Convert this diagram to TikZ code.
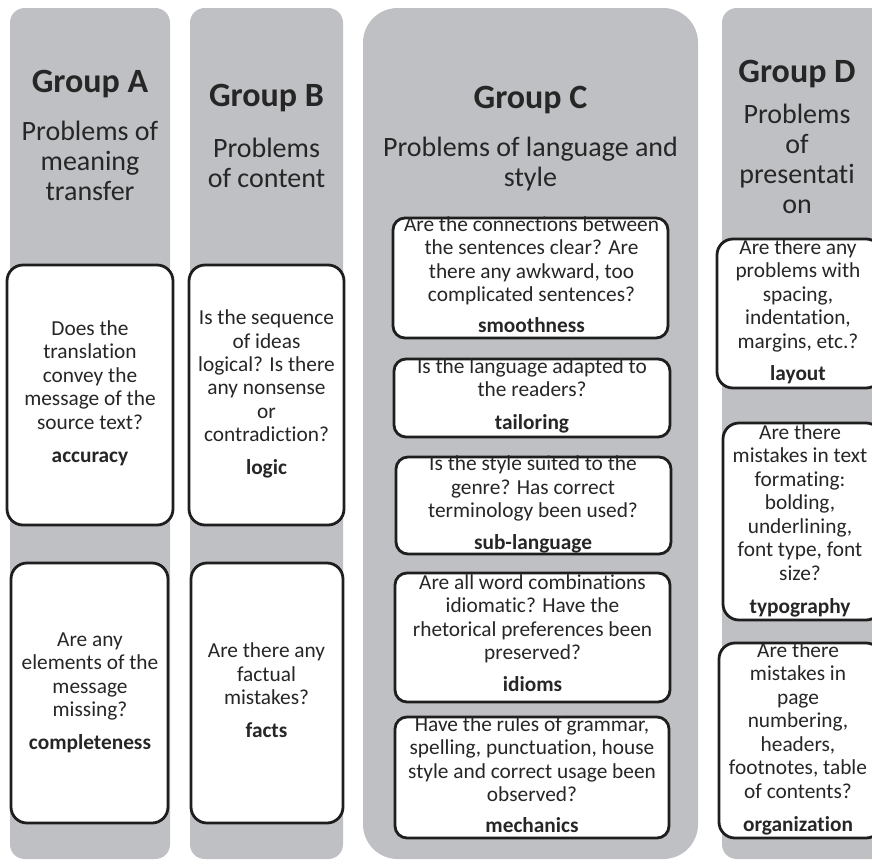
\documentclass[tikz,border=0pt]{standalone}
\usepackage{fontspec}
\setmainfont{Carlito}[Ligatures={NoCommon}]
\definecolor{colgray}{HTML}{BFC0C4}
\definecolor{boxline}{HTML}{1E1E1E}
\definecolor{txt}{HTML}{262626}
\tikzset{
  col/.style={fill=colgray, draw=none, rounded corners=11pt},
  qbox/.style={draw=boxline, fill=white, line width=2.1pt, rounded corners=12pt},
  cbox/.style={qbox, rounded corners=9pt},
  qtext/.style={align=center, inner sep=0pt, text=txt, font=\fontsize{16}{17.6}\selectfont},
  qlabel/.style={qtext, font=\bfseries\fontsize{16}{17.6}\selectfont},
  gtitle/.style={align=center, inner sep=0pt, text=txt, font=\bfseries\fontsize{25.5}{28.8}\selectfont},
  gsub/.style={align=center, inner sep=0pt, text=txt, font=\fontsize{21}{22.5}\selectfont}
}
\begin{document}
\begin{tikzpicture}[x=0.75pt,y=-0.75pt]
\useasboundingbox (0,0) rectangle (872,861);
\clip (0,0) rectangle (872,861);
% columns
\fill[col] (10,8) rectangle (170,859);
\fill[col] (190,8) rectangle (343,859);
\fill[col, rounded corners=26pt] (363,8) rectangle (698,859);
\fill[col] (722,8) rectangle (890,859);
% headers
\node[gtitle] (ga) at (90,84) {Group A};
\node[gsub] (gas) at (90,164.5) {\strut Problems of\\meaning\\transfer\strut};
\node[gtitle] (gb) at (266.5,98) {Group B};
\node[gsub] (gbs) at (266.5,166) {\strut Problems\\of content\strut};
\node[gtitle] (gc) at (530.5,100) {Group C};
\node[gsub] (gcs) at (530.5,165.5) {\strut Problems of language and\\style\strut};
\node[gtitle] (gd) at (797,74) {Group D};
\node[gsub] (gds) at (797,162) {\strut Problems\\of\\presentati\\on\strut};
% Group A boxes
\draw[qbox] (7,265) rectangle (173,525);
\node[qtext] (a1q) at (90,377.5) {\strut Does the\\translation\\convey the\\message of the\\source text?\strut};
\node[qlabel] (a1l) at (90,458) {\strut accuracy};
\draw[qbox] (11,563) rectangle (168,823);
\node[qtext] (a2q) at (90,677) {\strut Are any\\elements of the\\message\\missing?\strut};
\node[qlabel] (a2l) at (90,745) {\strut completeness};
% Group B boxes
\draw[qbox] (189,265) rectangle (344,525);
\node[qtext] (b1q) at (266.5,378.5) {\strut Is the sequence\\of ideas\\logical? Is there\\any nonsense\\or\\contradiction?\strut};
\node[qlabel] (b1l) at (266.5,470) {\strut logic};
\draw[qbox] (191,563) rectangle (343,823);
\node[qtext] (b2q) at (266.5,676.5) {\strut Are there any\\factual\\mistakes?\strut};
\node[qlabel] (b2l) at (266.5,733) {\strut facts};
% Group C boxes
\draw[cbox] (393,218) rectangle (668,338);
\node[qtext] (c1q) at (531.5,262) {\strut Are the connections between\\the sentences clear? Are\\there any awkward, too\\complicated sentences?\strut};
\node[qlabel] (c1l) at (531.5,328) {\strut smoothness};
\draw[cbox] (394,359) rectangle (670,437);
\node[qtext] (c2q) at (532,380.5) {\strut Is the language adapted to\\the readers?\strut};
\node[qlabel] (c2l) at (532,425) {\strut tailoring};
\draw[cbox] (396,457) rectangle (671,554);
\node[qtext] (c3q) at (533,489.5) {\strut Is the style suited to the\\genre? Has correct\\terminology been used?\strut};
\node[qlabel] (c3l) at (533,545) {\strut sub-language};
\draw[cbox] (395,573) rectangle (670,702);
\node[qtext] (c4q) at (532.5,620) {\strut Are all word combinations\\idiomatic? Have the\\rhetorical preferences been\\preserved?\strut};
\node[qlabel] (c4l) at (532.5,687) {\strut idioms};
\draw[cbox] (395,717) rectangle (669,838);
\node[qtext] (c5q) at (532,762) {\strut Have the rules of grammar,\\spelling, punctuation, house\\style and correct usage been\\observed?\strut};
\node[qlabel] (c5l) at (532,828) {\strut mechanics};
% Group D boxes
\draw[qbox] (717,239) rectangle (882,388);
\node[qtext] (d1q) at (798,296.5) {\strut Are there any\\problems with\\spacing,\\indentation,\\margins, etc.?\strut};
\node[qlabel] (d1l) at (798,376) {\strut layout};
\draw[qbox] (723,423) rectangle (882,620);
\node[qtext] (d2q) at (800,505) {\strut Are there\\mistakes in text\\formating:\\bolding,\\underlining,\\font type, font\\size?\strut};
\node[qlabel] (d2l) at (800,609) {\strut typography};
\draw[qbox] (719,643) rectangle (882,838);
\node[qtext] (d3q) at (798,723) {\strut Are there\\mistakes in\\page\\numbering,\\headers,\\footnotes, table\\of contents?\strut};
\node[qlabel] (d3l) at (798,827) {\strut organization};
\end{tikzpicture}
\end{document}
